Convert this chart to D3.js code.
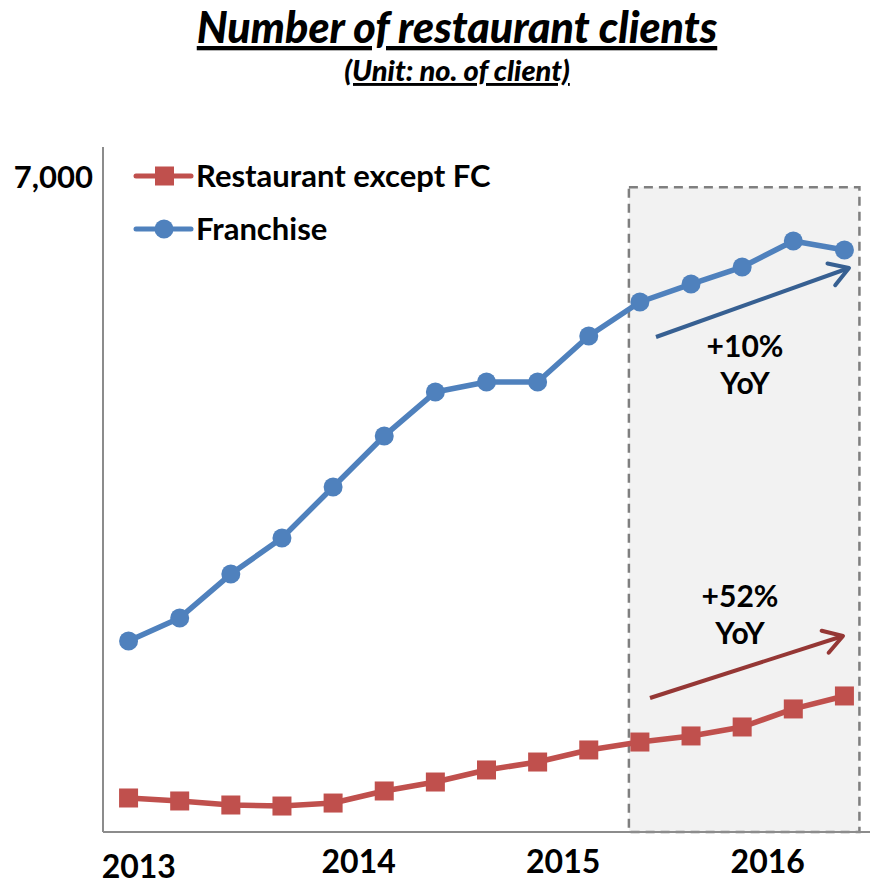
<!DOCTYPE html>
<html>
<head>
<meta charset="utf-8">
<script src="https://cdn.jsdelivr.net/npm/d3@7"></script>
<style>
  body { margin: 0; background: #fff; }
  text { font-family: Lato, "Open Sans", sans-serif; fill: #000; }
</style>
</head>
<body>
<div id="chart"></div>
<script>
// quarterly points, 2013 -> 2016
const periods = ["2013-2","2013-3","2013-4","2014-1","2014-2","2014-3","2014-4","2015-1",
                 "2015-2","2015-3","2015-4","2016-1","2016-2","2016-3","2016-4"];
const franchise = [2044, 2291, 2761, 3147, 3693, 4239, 4709, 4817, 4817, 5309, 5673, 5865, 6047, 6326, 6229];
const restaurant = [364, 332, 289, 278, 310, 439, 535, 664, 749, 878, 963, 1028, 1124, 1317, 1456];
const yearLabels = ["2013", "2014", "2015", "2016"];
const yearAt = [0.7, 5, 9, 13];   // position in periods
const yTicks = [7000];

const width = 874, height = 886;
const margin = {top: 147, right: 4, bottom: 54, left: 103};
const blue = "#4F81BD", red = "#C0504D";

const svg = d3.select("#chart")
  .append("svg")
  .attr("width", width)
  .attr("height", height);

let xScale = d3.scaleBand()
  .domain(periods)
  .range([margin.left, width - margin.right]);
const cx = p => xScale(p) + xScale.bandwidth() / 2;

let yScale = d3.scaleLinear()
  .domain([0, 7000])
  .range([height - margin.bottom, 178]);

// title
svg.append("text")
  .attr("x", 457).attr("y", 43)
  .attr("text-anchor", "middle")
  .attr("font-size", "43px").attr("font-weight", 900).attr("font-style", "italic")
  .attr("text-decoration", "underline")
  .text("Number of restaurant clients");
svg.append("text")
  .attr("x", 457).attr("y", 81)
  .attr("text-anchor", "middle")
  .attr("font-size", "29px").attr("font-weight", 900).attr("font-style", "italic")
  .attr("text-decoration", "underline")
  .text("(Unit: no. of client)");

// highlighted last year box
const boxLeft = cx(periods[10]) - 11, boxRight = cx(periods[14]) + 15;
svg.append("rect")
  .attr("x", boxLeft).attr("y", yScale(6900))
  .attr("width", boxRight - boxLeft)
  .attr("height", yScale(0) - yScale(6900))
  .attr("fill", "#F2F2F2")
  .attr("stroke", "#7F7F7F").attr("stroke-width", 2.5)
  .attr("stroke-dasharray", "9,6");

// axes
svg.append("line")
  .attr("x1", margin.left).attr("x2", margin.left)
  .attr("y1", margin.top).attr("y2", yScale(0))
  .attr("stroke", "#8C8C8C").attr("stroke-width", 2);
svg.append("line")
  .attr("x1", margin.left).attr("x2", width - margin.right)
  .attr("y1", yScale(0)).attr("y2", yScale(0))
  .attr("stroke", "#8C8C8C").attr("stroke-width", 2);

svg.append("g")
  .attr("transform", `translate(${margin.left - 7},0)`)
  .call(d3.axisLeft(yScale).tickValues(yTicks).tickSize(0).tickFormat(d3.format(",")))
  .call(g => g.select(".domain").remove())
  .selectAll("text")
  .attr("font-size", "31px").attr("font-weight", "bold")
  .style("font-family", "Lato, sans-serif").attr("fill", "#000");

const step = xScale.step();
svg.selectAll(".year")
  .data(yearLabels)
  .enter().append("text")
  .attr("class", "year")
  .attr("x", (d, i) => margin.left + yearAt[i] * step)
  .attr("y", (d, i) => i === 0 ? 878 : 873)
  .attr("text-anchor", "middle")
  .attr("font-size", "32px").attr("font-weight", "bold")
  .text(d => d);

// lines
const line = d3.line()
  .x((d, i) => cx(periods[i]))
  .y(d => yScale(d));

svg.append("path").datum(franchise)
  .attr("d", line).attr("fill", "none")
  .attr("stroke", blue).attr("stroke-width", 5.5).attr("stroke-linejoin", "round");
svg.selectAll(".dot")
  .data(franchise)
  .enter().append("circle")
  .attr("class", "dot")
  .attr("cx", (d, i) => cx(periods[i]))
  .attr("cy", d => yScale(d))
  .attr("r", 9.5)
  .attr("fill", blue);

svg.append("path").datum(restaurant)
  .attr("d", line).attr("fill", "none")
  .attr("stroke", red).attr("stroke-width", 5.5).attr("stroke-linejoin", "round");
svg.selectAll(".sq")
  .data(restaurant)
  .enter().append("rect")
  .attr("class", "sq")
  .attr("x", (d, i) => cx(periods[i]) - 9.5)
  .attr("y", d => yScale(d) - 9.5)
  .attr("width", 19).attr("height", 19)
  .attr("fill", red);

// legend
const legend = [
  {name: "Restaurant except FC", color: red, y: 176, shape: "square"},
  {name: "Franchise", color: blue, y: 229, shape: "circle"}
];
legend.forEach(l => {
  svg.append("line")
    .attr("x1", 136).attr("x2", 191).attr("y1", l.y).attr("y2", l.y)
    .attr("stroke", l.color).attr("stroke-width", 5).attr("stroke-linecap", "round");
  if (l.shape === "square") {
    svg.append("rect").attr("x", 155).attr("y", l.y - 9.5)
      .attr("width", 19).attr("height", 19).attr("fill", l.color);
  } else {
    svg.append("circle").attr("cx", 164).attr("cy", l.y).attr("r", 9.5).attr("fill", l.color);
  }
  svg.append("text")
    .attr("x", 196).attr("y", l.y + 11)
    .attr("font-size", "31px").attr("font-weight", "bold")
    .text(l.name);
});

// growth arrows
function arrow(x1, y1, x2, y2, color) {
  const ang = Math.atan2(y2 - y1, x2 - x1), len = 22, spread = 0.55;
  svg.append("line")
    .attr("x1", x1).attr("y1", y1).attr("x2", x2).attr("y2", y2)
    .attr("stroke", color).attr("stroke-width", 4);
  svg.append("path")
    .attr("d", `M${x2 - len * Math.cos(ang - spread)},${y2 - len * Math.sin(ang - spread)}
                L${x2},${y2}
                L${x2 - len * Math.cos(ang + spread)},${y2 - len * Math.sin(ang + spread)}`)
    .attr("fill", "none").attr("stroke", color).attr("stroke-width", 4)
    .attr("stroke-linecap", "round").attr("stroke-linejoin", "round");
}
arrow(656, 337, 849, 268, "#376092");
arrow(650, 698, 843, 636, "#953735");

const notes = [
  {lines: ["+10%", "YoY"], x: 745, y: 357},
  {lines: ["+52%", "YoY"], x: 740, y: 607}
];
notes.forEach(n => {
  n.lines.forEach((t, i) => {
    svg.append("text")
      .attr("x", n.x).attr("y", n.y + i * 37)
      .attr("text-anchor", "middle")
      .attr("font-size", "30px").attr("font-weight", "bold")
      .text(t);
  });
});
</script>
</body>
</html>
